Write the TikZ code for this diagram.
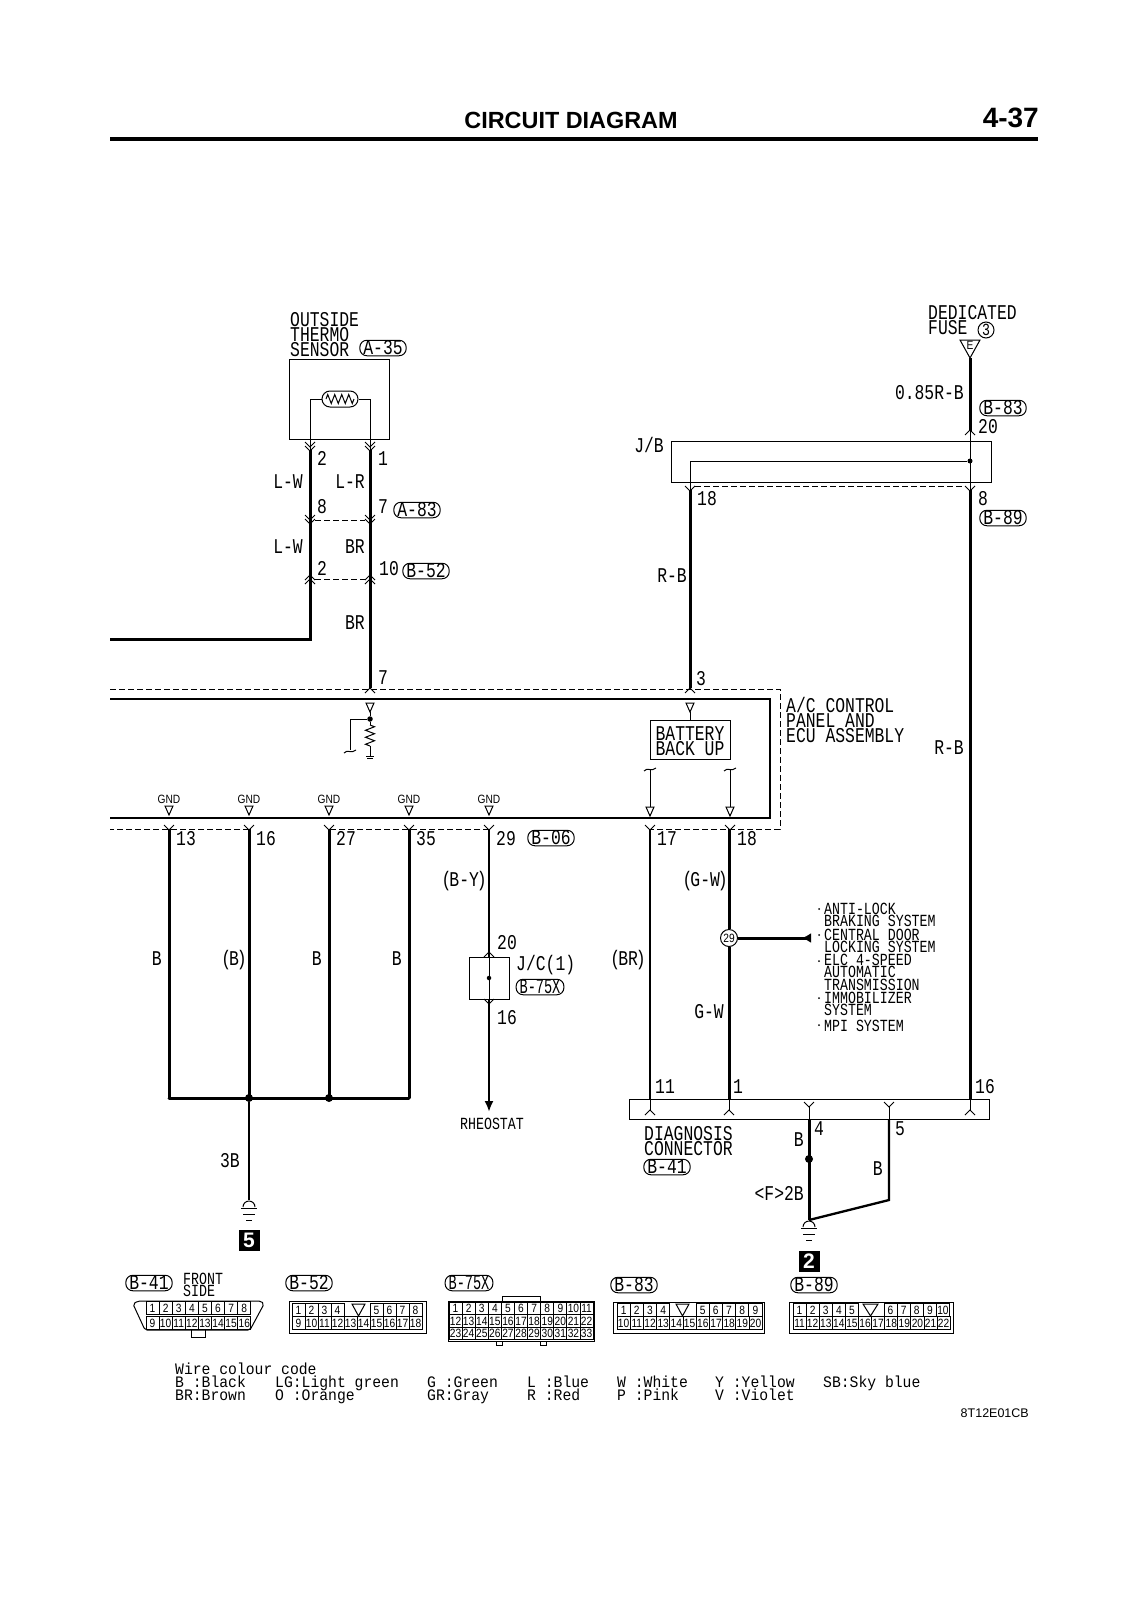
\documentclass[tikz,border=0pt]{standalone}
\usepackage{graphicx}
\usepackage{fontspec}
\usetikzlibrary{arrows.meta,decorations.pathmorphing}

\newfontfamily\wirefam[FakeStretch=0.78]{Liberation Mono}
\newfontfamily\legendfam[FakeStretch=0.92]{Liberation Mono}
\newfontfamily\narrowfam[FakeStretch=0.85]{Liberation Sans}
\newfontfamily\headfam{Liberation Sans}
\newcommand\wirefont{\wirefam\fontsize{21}{14}\selectfont}
\newcommand\listfont{\wirefam\fontsize{17}{11.3}\selectfont}
\newcommand\legendfont{\legendfam\fontsize{16}{13}\selectfont}
\newcommand\smallfont{\narrowfam\fontsize{12}{12}\selectfont}
\newcommand\tightparen[1]{(\kern-2pt #1\kern-2pt)}

\tikzset{
	thinwire/.style={line width=1pt},
	thickwire/.style={line width=3pt},
	midwire/.style={line width=2.3pt},
	dashwire/.style={line width=1pt,dash pattern=on 6pt off 3pt},
	panel/.style={line width=1.3pt},
	mlab/.style={font=\wirefont,inner sep=0pt,align=left},
	lab/.style={font=\wirefont,inner sep=0pt,text height=13.5pt,text depth=0pt},
	listlab/.style={font=\listfont,inner sep=0pt,align=left,anchor=west},
	legend/.style={font=\legendfont,inner sep=0pt,anchor=base west},
	ref/.style={draw,thinwire,font=\wirefont,rounded corners=7pt,inner xsep=3.5pt,inner ysep=1pt,text height=13.5pt,text depth=0pt},
	dot/.style={circle,fill,inner sep=0pt,minimum size=5.5pt},
	cell/.style={draw,thinwire,font=\smallfont,inner sep=0pt,minimum height=12.5pt},
	numbox/.style={fill=black,text=white,inner sep=0pt,minimum size=21pt,font=\headfam\bfseries\fontsize{21}{21}\selectfont},
	pinY/.pic={\draw [thinwire] (-5,-5) -- (0,0) -- (5,-5);},
	pinA/.pic={\draw [thinwire] (-5,5) -- (0,0) -- (5,5);},
	pinYY/.pic={\draw [thinwire] (-5,-9) -- (0,-4) -- (5,-9) (-5,-5) -- (0,0) -- (5,-5);},
	pinAA/.pic={\draw [thinwire] (-5,9) -- (0,4) -- (5,9) (-5,5) -- (0,0) -- (5,5);},
	tri/.pic={\draw [thinwire] (-4,-9) -- (4,-9) -- (0,0) -- cycle;},
	tildecap/.pic={\draw [thinwire] (-6,2) .. controls (-3,-2) and (2,3) .. (6,-1);},
	earth/.pic={\draw [thinwire] (-6,7) arc [start angle=180,end angle=0,radius=6pt];
		\draw [thinwire] (-8,8) -- (8,8) (-6,14) -- (6,14) (-3,20) -- (3,20);},
}

% one row of numbered connector cells: prefix, x, y, cell width, numbers
\newcommand\cellrow[5]{%
	\foreach \n [count=\i from 0] in {#5}
		\node [cell,minimum width=#4] (#1\n) at ({#2+#4*(\i+.5)},#3) {\n};
}

\begin{document}
\begin{tikzpicture}[x=1pt,y=-1pt]
	\useasboundingbox (0,0) rectangle (1131,1600);

	% Page heading
	\node [inner sep=0pt,font=\headfam\bfseries\fontsize{23.4}{24}\selectfont] (title) at (571,120) {CIRCUIT DIAGRAM};
	\node [inner sep=0pt,anchor=east,font=\headfam\bfseries\fontsize{28}{28}\selectfont] (page) at (1039,118) {4-37};
	\coordinate (rule l) at (110,139);
	\coordinate (rule r) at (1038,139);
	\draw [line width=3.5pt] (rule l) -- (rule r);

	% Outside thermo sensor and its two wires
	\node [mlab,anchor=north west] (sensor name) at (290,312) {OUTSIDE\\THERMO\\SENSOR};
	\node [ref] (a35) at (383,348) {A-35};
	\node [draw,thinwire,minimum width=100pt,minimum height=80pt,inner sep=0pt] (sensor) at (339.5,399) {};
	\node [draw,thinwire,rounded corners=8pt,minimum width=36pt,minimum height=16pt,inner sep=0pt] (therm) at (340,399) {};
	\draw [thinwire,decorate,decoration={zigzag,amplitude=4.5pt,segment length=7pt}] (326,399) -- (354,399);
	\coordinate (sens l) at (310,439);
	\coordinate (sens r) at (370,439);
	\draw [thinwire] (sens l) |- (therm.west);
	\draw [thinwire] (sens r) |- (therm.east);
	\coordinate (a l) at (310,450);
	\coordinate (a r) at (370,450);
	\coordinate (b l) at (310,639);
	\coordinate (edge l) at (110,639);
	\coordinate (panel r) at (370,688);
	\draw [thinwire] (sens l) -- (a l);
	\draw [thinwire] (sens r) -- (a r);
	\draw [thickwire] (a l) -- (b l) -- (edge l);
	\draw [thickwire] (a r) -- (panel r);
	\pic at (310,451) {pinYY};
	\pic at (370,451) {pinYY};
	\pic at (310,524) {pinYY};
	\pic at (370,524) {pinYY};
	\pic at (310,575) {pinAA};
	\pic at (370,575) {pinAA};
	\pic at (370,688) {pinA};

	% Dashed connector outlines between the wires
	\coordinate (a83 l) at (315,520);
	\coordinate (a83 r) at (365,520);
	\coordinate (b52 l) at (315,579);
	\coordinate (b52 r) at (365,579);
	\draw [dashwire] (a83 l) -- (a83 r);
	\draw [dashwire] (b52 l) -- (b52 r);

	% Labels along the sensor wires
	\node [lab,anchor=west] (p2) at (317,459) {2};
	\node [lab,anchor=west] (p1) at (378,459) {1};
	\node [lab,anchor=east] (lw1) at (303,482) {L-W};
	\node [lab,anchor=east] (lr) at (365,482) {L-R};
	\node [lab,anchor=west] (p8) at (317,507) {8};
	\node [lab,anchor=west] (p7) at (378,507) {7};
	\node [ref] (a83) at (417,510) {A-83};
	\node [lab,anchor=east] (lw2) at (303,547) {L-W};
	\node [lab,anchor=east] (br1) at (365,547) {BR};
	\node [lab,anchor=west] (p2b) at (317,569) {2};
	\node [lab,anchor=west] (p10) at (379,569) {10};
	\node [ref] (b52) at (426,571) {B-52};
	\node [lab,anchor=east] (br2) at (365,623) {BR};
	\node [lab,anchor=west] (p7b) at (378,678) {7};

	% Control panel: dashed case and solid inner line
	\coordinate (dash tl) at (110,689);
	\coordinate (dash tr) at (780,689);
	\coordinate (dash br) at (780,829);
	\coordinate (dash bl) at (110,829);
	\coordinate (dash b17) at (650,829);
	\draw [dashwire] (dash tl) -- (dash tr) -- (dash br) -- (dash b17);
	\coordinate (box tl) at (110,699);
	\coordinate (box tr) at (770,699);
	\coordinate (box br) at (770,818);
	\coordinate (box bl) at (110,818);
	\draw [panel] (box tl) -- (box tr) -- (box br) -- (box bl);
	\node [mlab,anchor=north west] (panel name) at (786,697) {A/C CONTROL\\PANEL AND\\ECU ASSEMBLY};

	% Sensor input inside the panel
	\pic at (370,712) {tri};
	\node [dot] (sens dot) at (370,719) {};
	\coordinate (res top) at (370,725);
	\coordinate (res bot) at (370,746);
	\coordinate (res end) at (370,756);
	\coordinate (branch) at (350,750);
	\draw [thinwire] (370,712) -- (sens dot) -- (res top);
	\draw [thinwire,decorate,decoration={zigzag,amplitude=4.5pt,segment length=7pt}] (res top) -- (res bot);
	\draw [thinwire] (res bot) -- (res end);
	\draw [thinwire] (res end) ++(-4,0) -- ++(8,0);
	\draw [thinwire] (res end) ++(-3,2) -- ++(6,0);
	\draw [thinwire] (sens dot) -| (branch);
	\pic at (350,751) {tildecap};

	% Battery back up
	\pic at (690,712) {tri};
	\node [draw,thinwire,minimum width=80pt,minimum height=39pt,inner sep=0pt] (battery) at (690,739.5) {};
	\node [mlab] (battery text) at (690,741) {BATTERY\\BACK UP};
	\draw [thinwire] (690,712) -- (battery.north);
	\foreach \x in {650,730} {
		\coordinate (out top \x) at (\x,770);
		\coordinate (out bot \x) at (\x,807);
		\draw [thinwire] (out top \x) -- (out bot \x);
		\pic at (\x,816) {tri};
		\pic at (\x,769) {tildecap};
	}

	% The five grounds along the lower panel line
	\foreach \x/\pin in {169/13,249/16,329/27,409/35,489/29} {
		\node [inner sep=0pt,font=\smallfont] (gnd \pin) at (\x,799) {GND};
		\pic at (\x,815) {tri};
		\pic at (\x,830) {pinY};
		\node [lab,anchor=west] (pin \pin) at (\x+7,839) {\pin};
		\coordinate (top \pin) at (\x,829);
		\coordinate (bot \pin) at (\x,1098);
	}
	\draw [dashwire] (top 16) -- (dash bl);
	\draw [dashwire] (top 29) -- (top 27);
	\foreach \pin in {13,16,27,35}
		\draw [thickwire] (top \pin) -- (bot \pin);
	\draw [thickwire,line cap=round] (bot 13) -- (bot 35);
	\node [dot,minimum size=8pt] (join a) at (bot 16) {};
	\node [dot,minimum size=8pt] (join b) at (bot 27) {};
	\node [lab,anchor=east] (bk a) at (162,959) {B};
	\node [lab,anchor=east] (bk b) at (247,959) {\tightparen{B}};
	\node [lab,anchor=east] (bk c) at (322,959) {B};
	\node [lab,anchor=east] (bk d) at (402,959) {B};
	\node [ref] (b06) at (551,838) {B-06};

	% Earth 5
	\coordinate (earth five) at (249,1200);
	\draw [midwire] (join a) -- (earth five);
	\pic at (earth five) {earth};
	\node [lab,anchor=east] (three b) at (240,1161) {3B};
	\node [numbox] (five) at (249,1240) {5};

	% Rheostat wire through the joint connector
	\node [lab,anchor=east] (by) at (487,880) {\tightparen{B-Y}};
	\node [draw,thinwire,minimum width=40pt,minimum height=42pt,inner sep=0pt] (jc) at (489,978) {};
	\node [dot,minimum size=4.5pt] (jc dot) at (jc.center) {};
	\coordinate (rheo end) at (489,1112);
	\draw [midwire] (top 29) -- (jc.north);
	\draw [thinwire] (jc.north) -- (jc.south);
	\draw [midwire,-{Latex[length=11pt,width=9pt]}] (jc.south) -- (rheo end);
	\pic at (489,952) {pinA};
	\pic at (489,1004) {pinY};
	\node [lab,anchor=west] (p20) at (497,943) {20};
	\node [lab,anchor=west] (jc name) at (516,964) {J/C(1)};
	\node [ref] (b75 a) at (540,987) {\scalebox{0.83}[1]{B-75X}};
	\node [lab,anchor=west] (p16) at (497,1018) {16};
	\node [font=\listfont,inner sep=0pt] (rheostat) at (492,1124) {RHEOSTAT};

	% Fuse feed and the junction block
	\node [mlab,anchor=north west] (fuse name) at (928,305) {DEDICATED\\FUSE};
	\node [draw,thinwire,circle,inner sep=0pt,minimum size=16pt,font=\listfont] (fuse no) at (986,330) {3};
	\coordinate (fuse tip) at (970,358);
	\draw [thinwire] (fuse tip) -- ++(-10,-18) -- ++(20,0) -- cycle;
	\node [inner sep=0pt,font=\smallfont] (fuse e) at (970,345) {E};
	\node [lab,anchor=east] (r85) at (964,393) {0.85R-B};
	\node [ref] (b83 a) at (1003,408) {B-83};
	\node [lab,anchor=west] (p20b) at (978,427) {20};
	\node [draw,thinwire,minimum width=320pt,minimum height=41pt,inner sep=0pt] (jb) at (831,461.5) {};
	\node [lab,anchor=east] (jb name) at (664,446) {J/B};
	\node [dot,minimum size=5pt] (jb dot) at (970,461) {};
	\coordinate (jb in) at (970,431);
	\coordinate (jb out) at (970,490);
	\coordinate (rb out) at (690,490);
	\coordinate (rb in) at (690,688);
	\draw [thickwire] (fuse tip) -- (jb in);
	\draw [thinwire] (jb in) -- (jb out);
	\draw [thinwire] (jb dot) -| (rb out);
	\draw [thickwire] (rb out) -- (rb in);
	\pic at (970,430) {pinA};
	\pic at (690,491) {pinY};
	\pic at (970,491) {pinY};
	\pic at (690,688) {pinA};
	\coordinate (jb dash l) at (695,486);
	\coordinate (jb dash r) at (965,486);
	\draw [dashwire] (jb dash l) -- (jb dash r);
	\node [lab,anchor=west] (p18) at (697,499) {18};
	\node [lab,anchor=west] (p8b) at (978,499) {8};
	\node [ref] (b89 a) at (1003,518) {B-89};
	\node [lab,anchor=east] (rb a) at (687,576) {R-B};
	\node [lab,anchor=west] (p3) at (696,679) {3};
	\node [lab,anchor=east] (rb b) at (964,748) {R-B};

	% Diagnosis connector and the wires into it
	\node [draw,thinwire,minimum width=360pt,minimum height=20pt,inner sep=0pt] (diag) at (809,1109) {};
	\coordinate (a17) at (650,829);
	\coordinate (a18) at (729,829);
	\coordinate (d11) at (650,1099);
	\coordinate (d1) at (729,1099);
	\coordinate (d16) at (970,1099);
	\node [draw,thinwire,circle,fill=white,inner sep=0pt,minimum size=17pt,font=\smallfont] (spl) at (729,938) {29};
	\draw [midwire] (a17) -- (d11);
	\draw [thickwire] (a18) -- (spl);
	\draw [thickwire] (spl) -- (d1);
	\draw [thickwire] (jb out) -- (d16);
	\foreach \x in {650,729,970} {
		\pic at (\x,1110) {pinA};
		\draw [thinwire] (\x,1099) -- (\x,1110);
	}
	\pic at (650,830) {pinY};
	\pic at (730,830) {pinY};
	\node [lab,anchor=west] (p17) at (657,839) {17};
	\node [lab,anchor=west] (p18b) at (737,839) {18};
	\node [lab,anchor=east] (gw a) at (728,880) {\tightparen{G-W}};
	\node [lab,anchor=east] (gw b) at (724,1012) {G-W};
	\node [lab,anchor=east] (br c) at (646,959) {\tightparen{BR}};
	\node [lab,anchor=west] (p11) at (655,1087) {11};
	\node [lab,anchor=west] (p1b) at (733,1087) {1};
	\node [lab,anchor=west] (p16b) at (975,1087) {16};
	\node [mlab,anchor=north west] (diag name) at (644,1126) {DIAGNOSIS\\CONNECTOR};
	\node [ref] (b41 a) at (667,1167) {B-41};

	% Splice arrow and the list of systems
	\coordinate (sys tip) at (811,938);
	\draw [thickwire,-{Latex[reversed,length=9pt,width=10pt]}] (spl) -- (sys tip);
	\foreach \y in {909,935,961,998,1025}
		\fill (819,\y) circle [radius=1pt];
	\node [listlab] (sys a) at (824,915) {ANTI-LOCK\\BRAKING SYSTEM};
	\node [listlab] (sys b) at (824,941) {CENTRAL DOOR\\LOCKING SYSTEM};
	\node [listlab] (sys c) at (824,972) {ELC 4-SPEED\\AUTOMATIC\\TRANSMISSION};
	\node [listlab] (sys d) at (824,1004) {IMMOBILIZER\\SYSTEM};
	\node [listlab] (sys e) at (824,1026) {MPI SYSTEM};

	% Earth 2
	\coordinate (p4 pin) at (809,1107);
	\coordinate (p5 pin) at (889,1107);
	\coordinate (p4 out) at (809,1119);
	\coordinate (p5 out) at (889,1119);
	\coordinate (p5 bend) at (889,1200);
	\coordinate (earth two) at (809,1220);
	\pic at (p4 pin) {pinY};
	\pic at (p5 pin) {pinY};
	\draw [thinwire] (p4 pin) -- (p4 out);
	\draw [thinwire] (p5 pin) -- (p5 out);
	\draw [thickwire] (p4 out) -- (earth two);
	\draw [midwire] (p5 out) -- (p5 bend) -- (earth two);
	\node [dot,minimum size=8pt] (earth dot) at (809,1159) {};
	\pic at (earth two) {earth};
	\node [lab,anchor=west] (p4) at (814,1129) {4};
	\node [lab,anchor=west] (p5) at (895,1129) {5};
	\node [lab,anchor=east] (bk e) at (804,1140) {B};
	\node [lab,anchor=east] (bk f) at (883,1169) {B};
	\node [lab,anchor=east] (f2b) at (804,1194) {<F>2B};
	\node [numbox] (two) at (809,1261) {2};

	% Connector faces
	\node [ref] (b41) at (149,1283) {B-41};
	\node [font=\listfont,inner sep=0pt,align=left,anchor=west] (front) at (183,1285) {FRONT\\SIDE};
	\draw [thinwire,rounded corners=2pt] (138,1301) -- (261,1301) -- (264,1304) -- (250,1330) -- (145,1330) -- (133,1304) -- cycle;
	\cellrow{ca}{146}{1308}{13.1}{1,...,8}
	\cellrow{ca}{146}{1323}{13.1}{9,...,16}
	\draw [thinwire] (191,1330) -- (191,1337) -- (205,1337) -- (205,1330);

	\node [ref] (b52 b) at (309,1283) {B-52};
	\node [draw,thinwire,minimum width=137pt,minimum height=32pt,inner sep=0pt] (cb) at (357.5,1317) {};
	\cellrow{cb}{292}{1310}{13}{1,...,4}
	\cellrow{cb}{370}{1310}{13}{5,...,8}
	\cellrow{cbb}{292}{1323}{13}{9,...,18}
	\draw [thinwire] (352,1304) -- (365,1304) -- (358.5,1316) -- cycle;

	\node [ref] (b75) at (469,1283) {\scalebox{0.83}[1]{B-75X}};
	\node [draw,thinwire,minimum width=146pt,minimum height=40pt,inner sep=0pt] (cc) at (521,1321) {};
	\cellrow{cc}{449}{1308.5}{13.1}{1,...,11}
	\cellrow{cc}{449}{1321}{13.1}{12,...,22}
	\cellrow{cc}{449}{1333.5}{13.1}{23,...,33}
	\draw [thinwire] (502,1301) -- (502,1296) -- (540,1296) -- (540,1301);
	\draw [thinwire] (496,1341) -- (496,1345) -- (502,1345) -- (502,1341);
	\draw [thinwire] (540,1341) -- (540,1345) -- (546,1345) -- (546,1341);

	\node [ref] (b83) at (634,1285) {B-83};
	\node [draw,thinwire,minimum width=151pt,minimum height=31pt,inner sep=0pt] (cd) at (688.5,1317.5) {};
	\cellrow{cd}{617}{1310}{13.2}{1,...,4}
	\cellrow{cd}{696}{1310}{13.2}{5,...,9}
	\cellrow{cd}{617}{1323}{13.2}{10,...,20}
	\draw [thinwire] (676,1304) -- (689,1304) -- (682.5,1316) -- cycle;

	\node [ref] (b89) at (814,1285) {B-89};
	\node [draw,thinwire,minimum width=164pt,minimum height=31pt,inner sep=0pt] (ce) at (871,1317.5) {};
	\cellrow{ce}{793}{1310}{13.1}{1,...,5}
	\cellrow{ce}{884}{1310}{13.1}{6,...,10}
	\cellrow{ce}{793}{1323}{13.1}{11,...,22}
	\draw [thinwire] (863,1304) -- (878,1304) -- (870.5,1316) -- cycle;

	% Wire colour code
	\node [legend] (code) at (175,1374) {Wire colour code};
	\foreach \x/\rowa/\rowb in {175/B :Black/BR:Brown,275/LG:Light green/O :Orange,427/G :Green/GR:Gray,527/L :Blue/R :Red,617/W :White/P :Pink,715/Y :Yellow/V :Violet} {
		\node [legend] (code a \x) at (\x,1387) {\rowa};
		\node [legend] (code b \x) at (\x,1400) {\rowb};
	}
	\node [legend] (code sky) at (823,1387) {SB:Sky blue};
	\node [inner sep=0pt,anchor=east,font=\headfam\fontsize{12.5}{13}\selectfont] (drawing no) at (1029,1413) {8T12E01CB};
\end{tikzpicture}
\end{document}
